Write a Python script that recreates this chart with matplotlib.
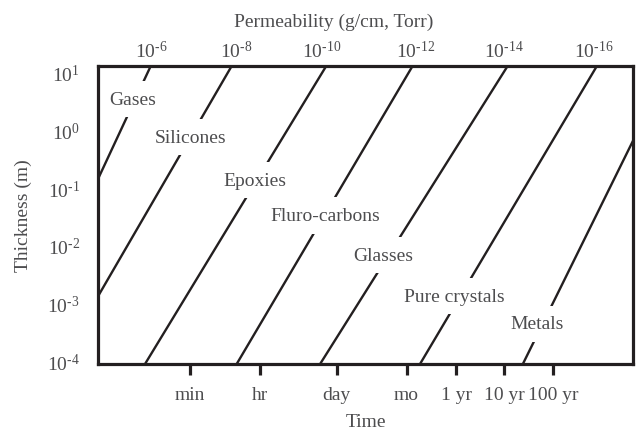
import matplotlib
matplotlib.use('Agg')
import matplotlib.pyplot as plt
from matplotlib.ticker import FixedLocator, FixedFormatter, NullLocator

plt.rcParams['font.family'] = ['Liberation Serif', 'DejaVu Serif']
plt.rcParams['mathtext.fontset'] = 'custom'
plt.rcParams['mathtext.rm'] = 'Liberation Serif'
plt.rcParams['font.size'] = 14

# data (log10 of seconds / log10 of metres)
materials = ['Gases', 'Silicones', 'Epoxies', 'Fluro-carbons',
             'Glasses', 'Pure crystals', 'Metals']
# upper end of each line
t_top = [1.21, 2.88, 4.83, 6.61, 8.57, 10.41, 11.15]
L_top = [1.12, 1.12, 1.12, 1.12, 1.12, 1.12, -0.18]
# lower end of each line
t_bot = [0.12, 0.12, 1.09, 2.98, 4.70, 6.76, 8.88]
L_bot = [-0.84, -2.87, -4.04, -4.04, -4.04, -4.04, -4.04]

# where the names sit on the lines
name_t = [0.84, 2.02, 3.36, 4.80, 5.99, 7.46, 9.18]
name_L = [0.54, -0.12, -0.86, -1.47, -2.16, -2.87, -3.35]

# bottom axis: time
time_ticks = [2.01, 3.46, 5.04, 6.48, 7.50, 8.49, 9.50]
time_labels = ['min', 'hr', 'day', 'mo', '1 yr', '10 yr', '100 yr']

# top axis: permeability exponents
perm_ticks = [1.22, 2.97, 4.73, 6.66, 8.48, 10.35]
perm_exp = [6, 8, 10, 12, 14, 16]

# left axis: thickness exponents
thick_ticks = [1, 0, -1, -2, -3, -4]


def pow_label(n):
    # short hyphen like the original instead of the long minus
    s = str(abs(n))
    if n < 0:
        s = '\u2010' + s
    return r'$\mathregular{10^{%s}}$' % s


x_lim = (0.118, 11.149)
y_lim = (-4.043, 1.118)

ink = '#231f20'
grey = '#4d4d4f'

fig = plt.figure(figsize=(6.37, 4.35), dpi=100)
ax = fig.add_axes([0.1538, 0.1609, 0.8399, 0.6858])
ax.set_xscale('log')
ax.set_yscale('log')

for i in range(len(materials)):
    ax.plot([10.0 ** t_top[i], 10.0 ** t_bot[i]],
            [10.0 ** L_top[i], 10.0 ** L_bot[i]],
            color=ink, lw=1.7, solid_capstyle='butt', zorder=2)
    ax.text(10.0 ** name_t[i], 10.0 ** name_L[i], materials[i],
            ha='center', va='center', color=grey, fontsize=14, zorder=3,
            bbox=dict(boxstyle='square,pad=0.5', fc='white', ec='none'))

ax.set_xlim(10.0 ** x_lim[0], 10.0 ** x_lim[1])
ax.set_ylim(10.0 ** y_lim[0], 10.0 ** y_lim[1])

# frame
for s in ax.spines.values():
    s.set_linewidth(2.3)
    s.set_color(ink)
    s.set_zorder(5)

# bottom ticks
ax.xaxis.set_major_locator(FixedLocator([10.0 ** v for v in time_ticks]))
ax.xaxis.set_major_formatter(FixedFormatter(time_labels))
ax.xaxis.set_minor_locator(NullLocator())
ax.tick_params(axis='x', which='major', direction='out', length=8, width=2.3,
               color=ink, pad=8, labelcolor=grey, labelsize=14)

# left ticks
ax.yaxis.set_major_locator(FixedLocator([10.0 ** v for v in thick_ticks]))
ax.yaxis.set_major_formatter(FixedFormatter([pow_label(v) for v in thick_ticks]))
ax.yaxis.set_minor_locator(NullLocator())
ax.tick_params(axis='y', which='major', length=0, pad=13,
               labelcolor=grey, labelsize=14)

ax.set_xlabel('Time', color=grey, fontsize=14, va='center')
ax.xaxis.set_label_coords(0.5, -0.194)
ax.set_ylabel('Thickness (m)', color=grey, fontsize=14, va='center')
ax.yaxis.set_label_coords(-0.14, 0.5)

# top axis
ax2 = ax.twiny()
ax2.set_xscale('log')
ax2.set_xlim(ax.get_xlim())
ax2.xaxis.set_major_locator(FixedLocator([10.0 ** v for v in perm_ticks]))
ax2.xaxis.set_major_formatter(FixedFormatter([pow_label(-v) for v in perm_exp]))
ax2.xaxis.set_minor_locator(NullLocator())
ax2.tick_params(axis='x', which='major', length=0, pad=3,
                labelcolor=grey, labelsize=14)
for s in ax2.spines.values():
    s.set_visible(False)
ax2.set_xlabel('Permeability (g/cm, Torr)', color=grey, fontsize=14, va='center')
ax2.xaxis.set_label_coords(0.44, 1.15)

plt.savefig('out.png', dpi=100)
